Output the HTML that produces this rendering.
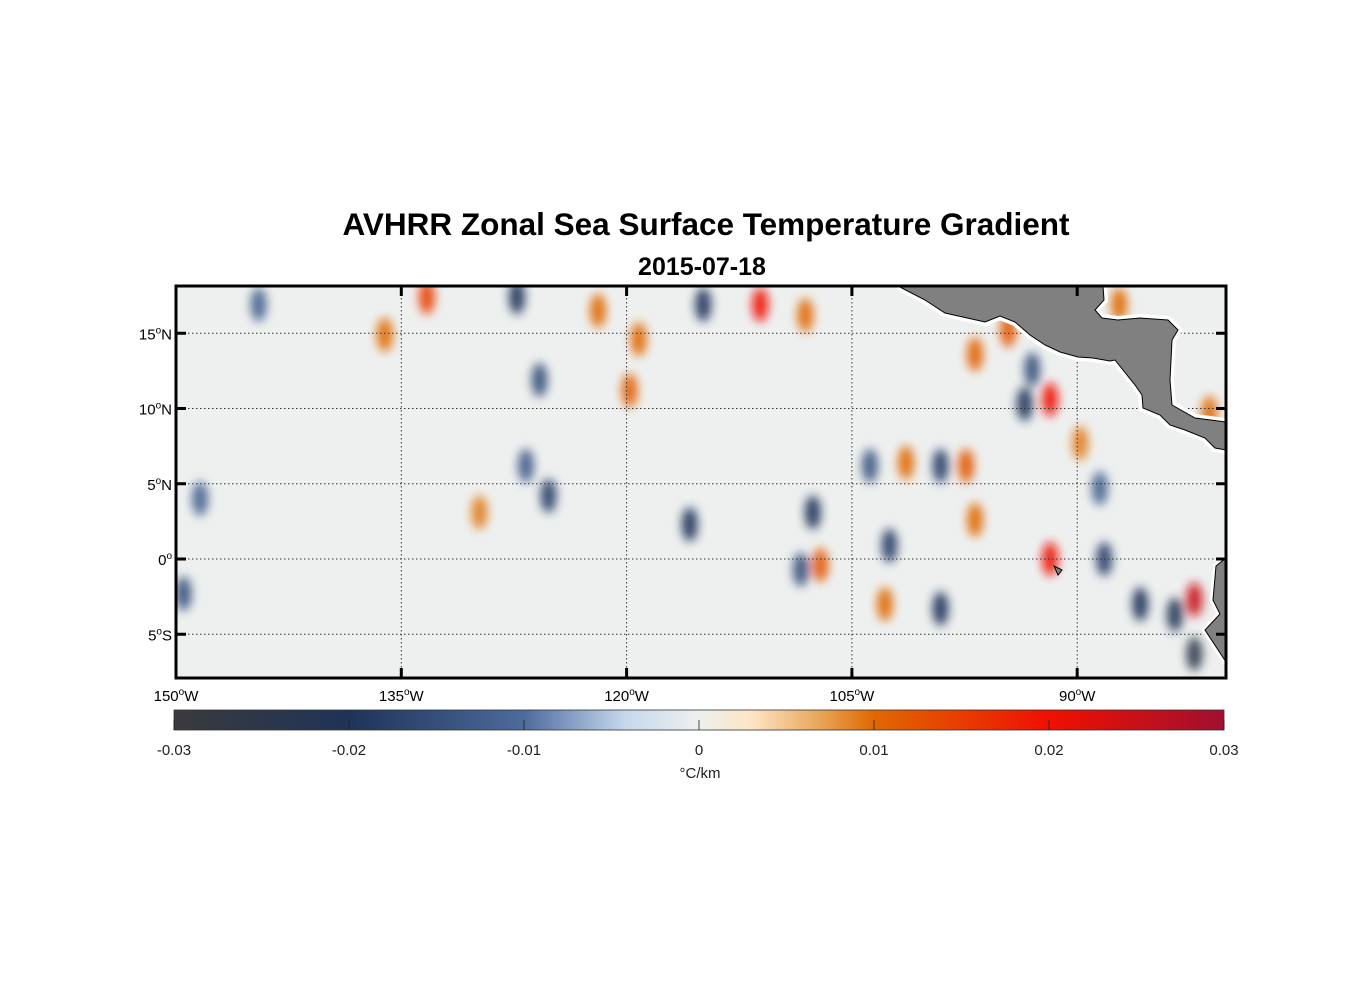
<!DOCTYPE html>
<html><head><meta charset="utf-8"><style>
body{margin:0;background:#fff;width:1356px;height:1000px;overflow:hidden;font-family:"Liberation Sans",sans-serif}
</style></head><body>
<svg id="chart" width="1356" height="1000" xmlns="http://www.w3.org/2000/svg" font-family="Liberation Sans, sans-serif">
<defs>
<filter id="blur" x="-50%" y="-50%" width="200%" height="200%"><feGaussianBlur stdDeviation="5"/></filter>
<clipPath id="clip"><rect x="176" y="286" width="1050" height="392"/></clipPath>
<linearGradient id="cbar" x1="0" x2="1" y1="0" y2="0">
<stop offset="0" stop-color="#3a3a3c"/><stop offset="0.167" stop-color="#1f3358"/>
<stop offset="0.333" stop-color="#4c6b9c"/><stop offset="0.43" stop-color="#c6d8ee"/>
<stop offset="0.5" stop-color="#eef0ee"/><stop offset="0.55" stop-color="#fde6c4"/>
<stop offset="0.62" stop-color="#e6a050"/><stop offset="0.667" stop-color="#e06800"/>
<stop offset="0.833" stop-color="#f01000"/><stop offset="1" stop-color="#a01030"/>
</linearGradient>
</defs>
<text x="706" y="235" text-anchor="middle" font-size="31.5" font-weight="bold">AVHRR Zonal Sea Surface Temperature Gradient</text>
<text x="702" y="275" text-anchor="middle" font-size="25" font-weight="bold">2015-07-18</text>
<g clip-path="url(#clip)">
<rect x="176" y="286" width="1050" height="392" fill="#eef0ef"/>
<g id="blobs" filter="url(#blur)" opacity="0.9"></g>
<g id="grid"></g>
<g fill="#808080" stroke="#000" stroke-width="1">
<path d="M898,286 L925,300 L945,313 L985,322 L1000,316 L1015,322 L1030,335 L1045,345 L1060,352 L1078,357 L1093,358 L1110,361 L1115,360 L1135,385 L1142,395 L1143,408 L1160,415 L1170,425 L1185,430 L1205,438 L1215,448 L1226,450 L1226,422 L1195,418 L1172,405 L1170,380 L1172,340 L1178,330 L1168,320 L1140,318 L1118,320 L1102,318 L1095,310 L1104,300 L1103,286 Z" stroke="#fff" stroke-width="8"/>
<path d="M898,286 L925,300 L945,313 L985,322 L1000,316 L1015,322 L1030,335 L1045,345 L1060,352 L1078,357 L1093,358 L1110,361 L1115,360 L1135,385 L1142,395 L1143,408 L1160,415 L1170,425 L1185,430 L1205,438 L1215,448 L1226,450 L1226,422 L1195,418 L1172,405 L1170,380 L1172,340 L1178,330 L1168,320 L1140,318 L1118,320 L1102,318 L1095,310 L1104,300 L1103,286 Z"/>
<path d="M1226,558 L1216,566 L1213,600 L1220,614 L1205,630 L1226,662 Z" stroke="#fff" stroke-width="6"/>
<path d="M1226,558 L1216,566 L1213,600 L1220,614 L1205,630 L1226,662 Z"/>
<path d="M1054,566 L1062,570 L1058,575 Z"/>
</g>
</g>
<rect x="176" y="286" width="1050" height="392" fill="none" stroke="#000" stroke-width="3"/>
<g id="ticks" font-size="15"></g>
<rect x="174" y="710" width="1050" height="20" fill="url(#cbar)" stroke="#333" stroke-width="0.8"/>
<g id="cbticks" font-size="15" fill="#222"></g>
<text x="700" y="778" text-anchor="middle" font-size="15" fill="#222">°C/km</text>
</svg>
<script>
const lonTicks=[-150,-135,-120,-105,-90];
const latTicks=[15,10,5,0,-5];
const cbTicks=[-0.03,-0.02,-0.01,0,0.01,0.02,0.03];
const blobLon=[-133.3,-136.1,-144.5,-127.3,-121.9,-114.9,-111.1,-108.1,-119.8,-125.8,-126.7,-125.2,-115.8,-107.6,-107.1,-108.4,-91.8,-93.5,-93,-94.6,-96.8,-97.4,-99.1,-101.4,-103.8,-91.8,-88.2,-82.2,-83.5,-82.2,-85.8,-99.1,-102.8,-102.5,-96.8,-119.2,-149.5,-148.4,-129.8,-81.2,-87.2,-89.8,-88.5];
const blobLat=[17.4,14.9,16.9,17.4,16.5,16.9,16.9,16.2,11.2,11.9,6.2,4.2,2.3,3.1,-0.4,-0.7,10.6,10.3,12.6,15.2,13.6,6.2,6.2,6.4,6.2,0,0,-2.7,-3.7,-6.3,-3.0,-3.3,-3.0,0.9,2.6,14.6,-2.3,4.0,3.1,9.7,16.9,7.7,4.7];
const blobVal=[0.015,0.01,-0.012,-0.02,0.01,-0.02,0.02,0.01,0.011,-0.015,-0.013,-0.018,-0.02,-0.02,0.012,-0.015,0.02,-0.02,-0.015,0.012,0.011,0.012,-0.018,0.01,-0.014,0.02,-0.018,0.025,-0.022,-0.025,-0.02,-0.02,0.01,-0.018,0.01,0.01,-0.015,-0.012,0.009,0.01,0.01,0.009,-0.012];
const NS='http://www.w3.org/2000/svg';
const x=l=>176+(l+150)*15.02;
const y=a=>559-a*15.05;
const cx=v=>174+(v+0.03)/0.06*1050;
function col(v){
  const s=[[-0.03,[58,58,60]],[-0.02,[31,51,88]],[-0.01,[76,107,156]],[-0.004,[198,216,238]],[0,[238,240,238]],[0.003,[253,230,196]],[0.007,[230,160,80]],[0.01,[224,104,0]],[0.02,[240,16,0]],[0.03,[160,16,48]]];
  v=Math.max(-0.03,Math.min(0.03,v));
  for(let i=0;i<s.length-1;i++){if(v<=s[i+1][0]){const t=(v-s[i][0])/(s[i+1][0]-s[i][0]);const c=s[i][1].map((a,k)=>Math.round(a+(s[i+1][1][k]-a)*t));return `rgb(${c})`;}}
  return 'rgb(160,16,48)';
}
function mk(tag,attrs,parent){const e=document.createElementNS(NS,tag);for(const k in attrs)e.setAttribute(k,attrs[k]);parent.appendChild(e);return e;}
const bg=document.getElementById('blobs');
blobVal.forEach((v,i)=>{
  const e=mk('ellipse',{cx:x(blobLon[i]),cy:y(blobLat[i]),rx:8,ry:17,fill:col(v)},bg);
  
  
});
const g=document.getElementById('grid'), tk=document.getElementById('ticks');
lonTicks.forEach(l=>{
  const X=x(l);
  const ln=mk('line',{x1:X,x2:X,y1:286,y2:678,stroke:'#333','stroke-width':1,'stroke-dasharray':'1.5,2.5'},g);
  
  
  mk('line',{x1:X,x2:X,y1:286,y2:296,stroke:'#000','stroke-width':3},tk);
  mk('line',{x1:X,x2:X,y1:668,y2:678,stroke:'#000','stroke-width':3},tk);
  const t=mk('text',{x:X,y:701,'text-anchor':'middle'},tk);
  
  
  t.innerHTML=Math.abs(l)+'<tspan dy="-6" font-size="10">o</tspan><tspan dy="6">W</tspan>';
});
latTicks.forEach(a=>{
  const Y=y(a);
  const ln=mk('line',{x1:176,x2:1226,y1:Y,y2:Y,stroke:'#333','stroke-width':1,'stroke-dasharray':'1.5,2.5'},g);
  
  
  mk('line',{x1:176,x2:186,y1:Y,y2:Y,stroke:'#000','stroke-width':3},tk);
  mk('line',{x1:1216,x2:1226,y1:Y,y2:Y,stroke:'#000','stroke-width':3},tk);
  const t=mk('text',{x:172,y:Y+6,'text-anchor':'end'},tk);
  
  
  const h=a>0?'N':(a<0?'S':'');
  t.innerHTML=Math.abs(a)+'<tspan dy="-6" font-size="10">o</tspan><tspan dy="6">'+h+'</tspan>';
});
const cb=document.getElementById('cbticks');
cbTicks.forEach(v=>{
  const X=cx(v);
  mk('line',{x1:X,x2:X,y1:720,y2:730,stroke:'#222','stroke-width':0.8},cb);
  const t=mk('text',{x:X,y:755,'text-anchor':'middle'},cb);
  
  
  t.textContent=String(v);
});
</script>
</body></html>
